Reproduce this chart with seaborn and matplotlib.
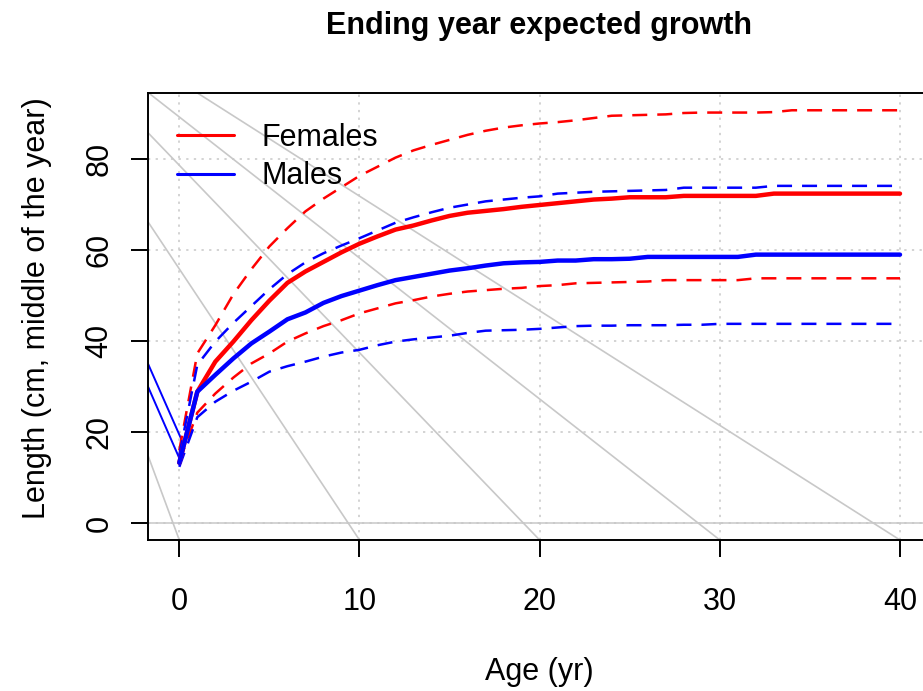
import matplotlib
matplotlib.use("Agg")
import matplotlib.pyplot as plt
import seaborn as sns
from matplotlib.lines import Line2D

# ---- growth curves (length at age, cm) ----
ages = list(range(41))

female_mean = [13.3, 28.9, 35.5, 39.9, 44.6, 48.9, 52.8, 55.3, 57.4, 59.5,
               61.4, 63.0, 64.5, 65.4, 66.5, 67.5, 68.2, 68.6, 69.0, 69.5,
               69.9, 70.3, 70.7, 71.1, 71.3, 71.6, 71.6, 71.6, 71.9, 71.9,
               71.9, 71.9, 71.9, 72.4, 72.4, 72.4, 72.4, 72.4, 72.4, 72.4,
               72.4]
female_hi = [16.0, 37.3, 43.5, 50.3, 55.8, 60.8, 64.8, 68.5, 71.3, 73.8,
             76.3, 78.3, 80.3, 81.9, 83.1, 84.2, 85.3, 86.2, 86.9, 87.4,
             87.8, 88.1, 88.5, 89.0, 89.5, 89.6, 89.7, 89.8, 90.1, 90.2,
             90.2, 90.2, 90.2, 90.3, 90.7, 90.7, 90.7, 90.7, 90.7, 90.7,
             90.7]
female_lo = [13.5, 24.3, 28.5, 32.0, 35.1, 37.3, 39.9, 41.7, 43.3, 44.6,
             46.1, 47.2, 48.3, 49.0, 49.8, 50.4, 50.9, 51.2, 51.5, 51.7,
             52.1, 52.3, 52.7, 52.8, 52.9, 53.0, 53.1, 53.4, 53.4, 53.4,
             53.4, 53.4, 53.8, 53.8, 53.8, 53.8, 53.8, 53.8, 53.8, 53.8,
             53.8]

male_mean = [13.3, 28.9, 32.6, 36.2, 39.5, 42.1, 44.8, 46.3, 48.4, 49.9,
             51.1, 52.3, 53.4, 54.1, 54.8, 55.5, 56.0, 56.6, 57.1, 57.3,
             57.4, 57.7, 57.7, 58.0, 58.0, 58.1, 58.5, 58.5, 58.5, 58.5,
             58.5, 58.5, 59.0, 59.0, 59.0, 59.0, 59.0, 59.0, 59.0, 59.0,
             59.0]
male_hi = [15.0, 34.8, 39.9, 44.0, 47.7, 51.4, 54.7, 57.3, 59.3, 61.0,
           62.6, 64.3, 66.0, 67.2, 68.3, 69.3, 70.0, 70.7, 71.1, 71.5,
           71.8, 72.4, 72.6, 72.8, 72.9, 73.0, 73.1, 73.2, 73.7, 73.7,
           73.7, 73.7, 73.7, 74.1, 74.1, 74.1, 74.1, 74.1, 74.1, 74.1,
           74.1]
male_lo = [12.4, 23.3, 26.7, 29.1, 31.1, 33.3, 34.5, 35.5, 36.6, 37.5,
           38.1, 39.1, 39.9, 40.4, 40.8, 41.2, 41.8, 42.3, 42.4, 42.5,
           42.7, 43.0, 43.3, 43.4, 43.4, 43.5, 43.5, 43.5, 43.6, 43.6,
           43.8, 43.8, 43.8, 43.8, 43.8, 43.8, 43.8, 43.8, 43.8, 43.8,
           43.8]

# short male segments entering from the left of the age range
male_pre_x = [[-2.0, 0.13], [-2.0, 0.0]]
male_pre_y = [[37.4, 18.3], [32.4, 14.3]]

# light reference diagonals (start point, end point)
diag_x0 = [-1.72, -1.72, -1.72, -1.72, 0.98]
diag_y0 = [14.7, 66.1, 85.7, 94.56, 94.56]
diag_x1 = [0, 10, 20, 30, 40]
diag_y1 = [-3.67, -3.67, -3.67, -3.67, -3.67]

x_ticks = [0, 10, 20, 30, 40]
y_ticks = [0, 20, 40, 60, 80]
legend_labels = ["Females", "Males"]

title = "Ending year expected growth"
x_label = "Age (yr)"
y_label = "Length (cm, middle of the year)"

# ---- styling ----
sns.set_style("white")
plt.rcParams["font.family"] = ["Liberation Sans", "DejaVu Sans"]
plt.rcParams["text.color"] = "black"
plt.rcParams["axes.labelcolor"] = "black"
plt.rcParams["xtick.color"] = "black"
plt.rcParams["ytick.color"] = "black"

W, H = 923, 691
fig = plt.figure(figsize=(W / 100, H / 100), dpi=100)
left_px, right_px, top_px, bottom_px = 148.3, 930.0, 92.7, 540.0
ax = fig.add_axes([left_px / W, 1 - bottom_px / H,
                   (right_px - left_px) / W, (bottom_px - top_px) / H])

ax.set_xlim(-1.7205, 41.665)
ax.set_ylim(-3.667, 94.56)

light = "#c8c8c8"
dotted = (0, (1.5, 3.5))

# dotted grid at the tick positions and a solid zero line
for xv in x_ticks:
    ax.axvline(xv, color=light, lw=1.1, ls=dotted, zorder=1)
for yv in y_ticks:
    ax.axhline(yv, color=light, lw=1.1, ls=dotted, zorder=1)
ax.axhline(0, color=light, lw=1.1, zorder=1)

for x0, y0, x1, y1 in zip(diag_x0, diag_y0, diag_x1, diag_y1):
    ax.plot([x0, x1], [y0, y1], color=light, lw=1.2, zorder=1)

# male lead-in segments
for xs, ys in zip(male_pre_x, male_pre_y):
    sns.lineplot(x=xs, y=ys, ax=ax, color="blue", linewidth=1.4, sort=False)

dash = (0, (6, 4))
sns.lineplot(x=ages, y=female_hi, ax=ax, color="red", linewidth=1.8, linestyle=dash)
sns.lineplot(x=ages, y=female_lo, ax=ax, color="red", linewidth=1.8, linestyle=dash)
sns.lineplot(x=ages, y=male_hi, ax=ax, color="blue", linewidth=1.8, linestyle=dash)
sns.lineplot(x=ages, y=male_lo, ax=ax, color="blue", linewidth=1.8, linestyle=dash)
sns.lineplot(x=ages, y=female_mean, ax=ax, color="red", linewidth=3.2)
sns.lineplot(x=ages, y=male_mean, ax=ax, color="blue", linewidth=3.2)

# axes frame and ticks
for sp in ax.spines.values():
    sp.set_visible(True)
    sp.set_color("black")
    sp.set_linewidth(1.4)

ax.set_xticks(x_ticks)
ax.set_yticks(y_ticks)
ax.tick_params(axis="both", direction="out", length=12.2, width=1.4,
               color="black", labelsize=22, labelcolor="black")
ax.tick_params(axis="x", pad=21.5, bottom=True)
ax.tick_params(axis="y", pad=12.2, left=True, labelrotation=90)
for t in ax.yaxis.get_major_ticks():
    t.label1.set_verticalalignment("center")

ax.set_title(title, fontsize=22, fontweight="bold", pad=42.3, color="black")
ax.set_xlabel(x_label, fontsize=22, color="black")
ax.xaxis.set_label_coords(0.5, -0.2607)
ax.set_ylabel(y_label, fontsize=22, color="black")
ax.yaxis.set_label_coords(-0.1238, 0.518)

handles = [Line2D([], [], color="red", lw=2.2),
           Line2D([], [], color="blue", lw=2.2)]
leg = ax.legend(handles, legend_labels, loc="upper left",
                bbox_to_anchor=(0.0363, 0.9325), frameon=False, fontsize=22,
                handlelength=1.87, handletextpad=0.91, labelspacing=0.28,
                borderpad=0, borderaxespad=0)
for txt in leg.get_texts():
    txt.set_color("black")

fig.savefig("out.png", dpi=100)
